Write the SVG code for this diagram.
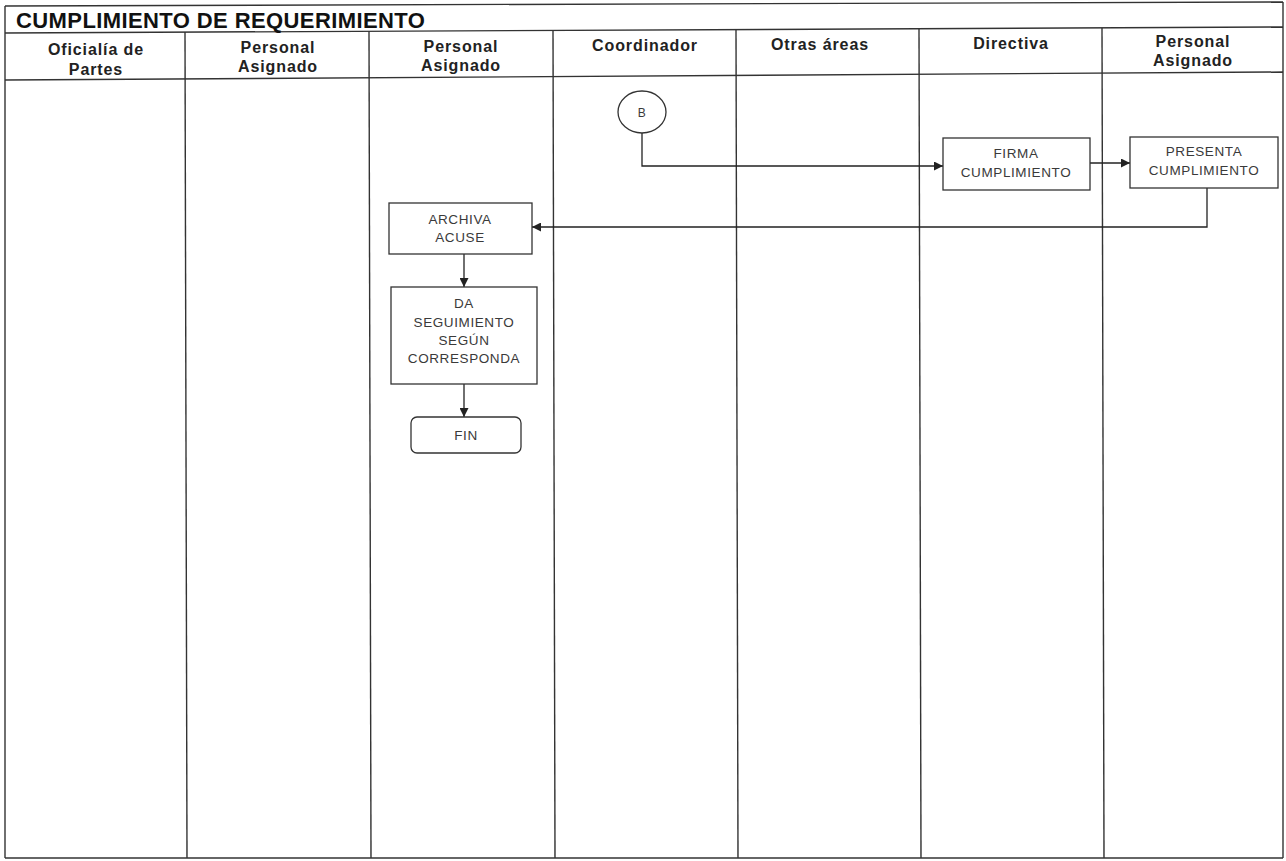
<svg xmlns="http://www.w3.org/2000/svg" width="1286" height="861" viewBox="0 0 1286 861">
<defs>
<marker id="arr" viewBox="0 0 10 10" refX="10" refY="5" markerWidth="9" markerHeight="9" markerUnits="userSpaceOnUse" orient="auto">
<path d="M0,0 L10,5 L0,10 z" fill="#222"/>
</marker>
<style>
.frame{stroke:#333;stroke-width:1.4;fill:none}
.hdr{font-family:"Liberation Sans",Arial,sans-serif;font-size:16px;font-weight:bold;fill:#222;text-anchor:middle;letter-spacing:0.9px}
.title{font-family:"Liberation Sans",Arial,sans-serif;font-size:22px;font-weight:bold;fill:#111;letter-spacing:0.4px}
.box{fill:#fff;stroke:#333;stroke-width:1.3}
.txt{font-family:"Liberation Sans",Arial,sans-serif;font-size:13.5px;fill:#3a3a3a;text-anchor:middle;letter-spacing:0.6px}
.con{stroke:#222;stroke-width:1.3;fill:none;marker-end:url(#arr)}
</style>
</defs>
<rect width="1286" height="861" fill="#fff"/>
<g id="frame">
<line class="frame" x1="5" y1="6" x2="1283" y2="2"/>
<line class="frame" x1="5" y1="858" x2="1283" y2="858"/>
<line class="frame" x1="5" y1="6" x2="5" y2="858"/>
<line class="frame" x1="1283" y1="2" x2="1283" y2="858"/>
<line class="frame" x1="5" y1="33" x2="1283" y2="27"/>
<line class="frame" x1="5" y1="80" x2="1283" y2="72"/>
<line class="frame" x1="185" y1="32" x2="187" y2="858"/>
<line class="frame" x1="369" y1="31" x2="371" y2="858"/>
<line class="frame" x1="553" y1="30" x2="555" y2="858"/>
<line class="frame" x1="736" y1="30" x2="738" y2="858"/>
<line class="frame" x1="919" y1="29" x2="921" y2="858"/>
<line class="frame" x1="1102" y1="28" x2="1104" y2="858"/>
<text class="title" x="16" y="28">CUMPLIMIENTO DE REQUERIMIENTO</text>
<text class="hdr" x="96" y="55">Oficialía de</text>
<text class="hdr" x="96" y="75">Partes</text>
<text class="hdr" x="278" y="53">Personal</text>
<text class="hdr" x="278" y="72">Asignado</text>
<text class="hdr" x="461" y="52">Personal</text>
<text class="hdr" x="461" y="71">Asignado</text>
<text class="hdr" x="645" y="51">Coordinador</text>
<text class="hdr" x="820" y="50">Otras áreas</text>
<text class="hdr" x="1011" y="49">Directiva</text>
<text class="hdr" x="1193" y="47">Personal</text>
<text class="hdr" x="1193" y="66">Asignado</text>
</g>
<g id="connectors">
<path class="con" d="M642,133 V166 H943"/>
<path class="con" d="M1090,163 H1130"/>
<path class="con" d="M1207,188 V227 H532"/>
<path class="con" d="M464,254 V287"/>
<path class="con" d="M464,384 V417"/>
</g>
<g id="node-B">
<ellipse class="box" cx="642" cy="112" rx="24" ry="21"/>
<text class="txt" x="642" y="117" style="font-size:12px">B</text>
</g>
<g id="node-firma">
<rect class="box" x="943" y="138" width="147" height="52"/>
<text class="txt" x="1016" y="158">FIRMA</text>
<text class="txt" x="1016" y="177">CUMPLIMIENTO</text>
</g>
<g id="node-presenta">
<rect class="box" x="1130" y="137" width="148" height="51"/>
<text class="txt" x="1204" y="156">PRESENTA</text>
<text class="txt" x="1204" y="175">CUMPLIMIENTO</text>
</g>
<g id="node-archiva">
<rect class="box" x="389" y="203" width="143" height="51"/>
<text class="txt" x="460" y="224">ARCHIVA</text>
<text class="txt" x="460" y="242">ACUSE</text>
</g>
<g id="node-da">
<rect class="box" x="391" y="287" width="146" height="97"/>
<text class="txt" x="464" y="308">DA</text>
<text class="txt" x="464" y="327">SEGUIMIENTO</text>
<text class="txt" x="464" y="345">SEGÚN</text>
<text class="txt" x="464" y="363">CORRESPONDA</text>
</g>
<g id="node-fin">
<rect class="box" x="411" y="417" width="110" height="36" rx="6" ry="6"/>
<text class="txt" x="466" y="440">FIN</text>
</g>
</svg>
